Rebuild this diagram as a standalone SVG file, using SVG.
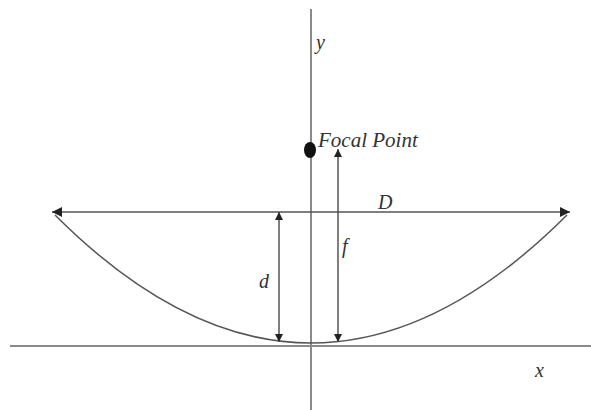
<svg xmlns="http://www.w3.org/2000/svg" width="591" height="410" viewBox="0 0 591 410">
<style>
.axis{stroke:#8a8a8a;stroke-width:2;fill:none}
.ln{stroke:#555;stroke-width:1.5;fill:none}
.lbl{font-family:"Liberation Serif",serif;font-style:italic;fill:#333}
</style>
<defs>
<marker id="ah" viewBox="0 0 10 10" refX="10" refY="5" markerWidth="8" markerHeight="8" markerUnits="userSpaceOnUse" orient="auto-start-reverse">
<path d="M0,0 L10,5 L0,10 z" fill="#222"/>
</marker>
<marker id="ahL" viewBox="0 0 10 10" refX="10" refY="5" markerWidth="12" markerHeight="10" markerUnits="userSpaceOnUse" orient="auto-start-reverse">
<path d="M0,0 L10,5 L0,10 z" fill="#222"/>
</marker>
</defs>
<rect width="591" height="410" fill="#fff"/>
<g id="connectors">
<line id="y-axis" class="axis" x1="311" y1="9" x2="311" y2="410"/>
<line id="x-axis" class="axis" x1="10" y1="346" x2="591" y2="346"/>
<path id="parabola" class="ln" d="M55,215 Q311,471 567,215"/>
<line id="D-line" class="ln" x1="52" y1="212" x2="570" y2="212" marker-start="url(#ahL)" marker-end="url(#ahL)"/>
<line id="d-line" class="ln" x1="279" y1="212" x2="279" y2="342" marker-start="url(#ah)" marker-end="url(#ah)"/>
<line id="f-line" class="ln" x1="338" y1="149" x2="338" y2="342" marker-start="url(#ah)" marker-end="url(#ah)"/>
</g>
<g id="focal-point">
<ellipse cx="310" cy="150" rx="6" ry="8" fill="#111"/>
<text class="lbl" x="318" y="147" font-size="21">Focal Point</text>
</g>
<g id="labels">
<text class="lbl" x="316" y="49" font-size="20">y</text>
<text class="lbl" x="535" y="377" font-size="20">x</text>
<text class="lbl" x="378" y="209" font-size="20">D</text>
<text class="lbl" x="259" y="288" font-size="20">d</text>
<text class="lbl" x="342" y="253" font-size="20">f</text>
</g>
</svg>
